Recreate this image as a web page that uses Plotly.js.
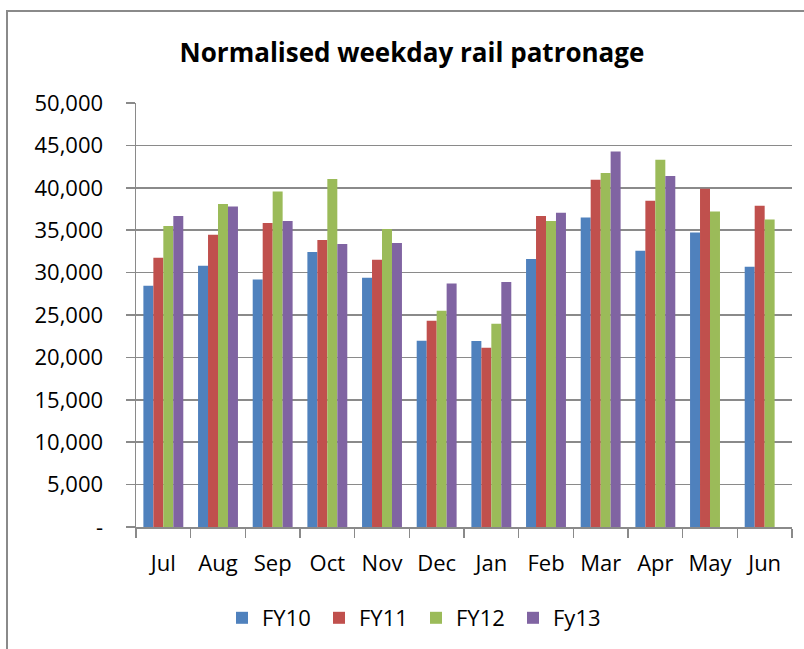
<!DOCTYPE html>
<html>
<head>
<meta charset="utf-8">
<script src="https://cdn.plot.ly/plotly-3.0.1.min.js"></script>
<style>
  html, body { margin: 0; padding: 0; background: #fff; }
  #wrap { position: relative; width: 804px; height: 649px; overflow: hidden; }
  #chart { width: 804px; height: 649px; }
  #frame { position: absolute; left: 6px; top: 10px; width: 900px; height: 900px;
           border-left: 2px solid #8a8a8a; border-top: 2px solid #8a8a8a; pointer-events: none; }
</style>
</head>
<body>
<div id="wrap">
  <div id="chart"></div>
  <div id="frame"></div>
</div>
<script>
const months = ["Jul","Aug","Sep","Oct","Nov","Dec","Jan","Feb","Mar","Apr","May","Jun"];
const fy10 = [28460, 30810, 29190, 32420, 29390, 21960, 21930, 31600, 36500, 32580, 34740, 30690];
const fy11 = [31750, 34460, 35840, 33840, 31510, 24320, 21140, 36670, 40950, 38470, 39890, 37880];
const fy12 = [35490, 38080, 39570, 41030, 35130, 25500, 23970, 36080, 41740, 43310, 37210, 36270];
const fy13 = [36670, 37800, 36080, 33370, 33480, 28720, 28880, 37060, 44290, 41380, null, null];
const yTickVals = [0,5000,10000,15000,20000,25000,30000,35000,40000,45000,50000];
const yTickText = ["-","5,000","10,000","15,000","20,000","25,000","30,000","35,000","40,000","45,000","50,000"];

const font = "'Open Sans', 'DejaVu Sans', sans-serif";
const mk = (name, y, color) => ({
  type: "bar", name: name, x: months, y: y,
  marker: { color: color, line: { width: 0 } },
  hoverinfo: "skip"
});
const data = [
  mk("FY10", fy10, "#4F81BD"),
  mk("FY11", fy11, "#C0504D"),
  mk("FY12", fy12, "#9BBB59"),
  mk("Fy13", fy13, "#8064A2")
];
const layout = {
  width: 804, height: 649,
  margin: { l: 136, r: 12, t: 103, b: 122, autoexpand: false },
  paper_bgcolor: "#fff", plot_bgcolor: "#fff",
  barmode: "group", bargap: 0.27, bargroupgap: 0,
  font: { family: font, size: 22, color: "#000" },
  title: { text: "<b>Normalised weekday rail patronage</b>", font: { family: font, size: 26, color: "#000" },
           x: 412 / 804, xref: "container", xanchor: "center", y: 1 - 53 / 649, yref: "container", yanchor: "middle" },
  xaxis: {
    type: "category", tickson: "boundaries", ticks: "outside", ticklen: 9, tickwidth: 1.5, tickcolor: "#8a8a8a",
    showline: true, linecolor: "#8a8a8a", linewidth: 1.5, showgrid: false,
    tickfont: { family: font, size: 22, color: "#000" }, ticklabelstandoff: 16
  },
  yaxis: {
    range: [0, 50000], tickvals: yTickVals, ticktext: yTickText,
    ticks: "outside", ticklen: 9, tickwidth: 1.5, tickcolor: "#8a8a8a",
    showline: true, linecolor: "#8a8a8a", linewidth: 1.5,
    showgrid: true, gridcolor: "#8a8a8a", gridwidth: 1.5, zeroline: false,
    tickfont: { family: font, size: 22, color: "#000" }, ticklabelstandoff: 18
  },
  showlegend: true,
  legend: {
    orientation: "h", x: 222 / 804, xref: "container", xanchor: "left",
    y: 1 - 618 / 649, yref: "container", yanchor: "middle",
    font: { family: font, size: 22, color: "#000" },
    entrywidth: 52, entrywidthmode: "pixels", itemwidth: 30, traceorder: "normal"
  }
};
Plotly.newPlot("chart", data, layout, { staticPlot: true, displayModeBar: false });
</script>
</body>
</html>
